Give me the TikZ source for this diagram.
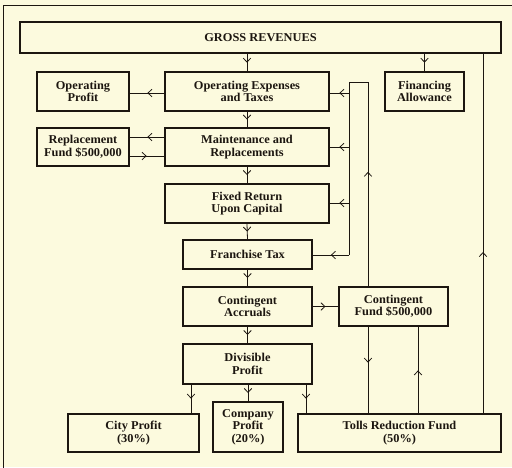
\documentclass[tikz,border=0pt]{standalone}
\usepackage{fontspec}
\setmainfont{Liberation Serif}[FakeStretch=1.03]
\usetikzlibrary{arrows.meta,decorations.markings}
\definecolor{paper}{RGB}{252,250,222}
\definecolor{ink}{RGB}{28,22,16}
\tikzset{
  box/.style={draw=ink, line width=1.6pt, align=center, inner sep=1pt,
    font=\fontsize{12}{12.5}\selectfont\bfseries, text=ink},
  flow/.style={draw=ink, line width=0.8pt},
  tipat/.style={postaction={decorate}, decoration={markings,
    mark=at position #1 with {\arrow[ink, line width=0.8pt]{Straight Barb[length=4pt,width=7.5pt]}}}},
  tipat/.default=0.5
}
\begin{document}
\begin{tikzpicture}[x=1pt,y=-1pt]
  % page and frame
  \useasboundingbox (0,0) rectangle (512,467);
  \fill[paper] (0,0) rectangle (512,467);
  \draw[ink, line width=1.2pt] (3.5,470) -- (3.5,5.5) -- (515,5.5);

  % boxes (centre, width, height)
  \node[box, line width=2.2pt, minimum width=481pt, minimum height=31pt] (gross) at (260.5,37.5) {GROSS REVENUES};
  \node[box, minimum width=92pt, minimum height=39pt] (opprofit) at (83,91.5) {Operating\\Profit};
  \node[box, minimum width=164pt, minimum height=39pt] (opex) at (247,91.5) {Operating Expenses\\and Taxes};
  \node[box, minimum width=79pt, minimum height=39pt] (financing) at (424.5,91.5) {Financing\\Allowance};
  \node[box, minimum width=92pt, minimum height=38pt] (replace) at (83,147) {Replacement\\Fund \$500,000};
  \node[box, minimum width=164pt, minimum height=38pt] (maint) at (247,147) {Maintenance and\\Replacements};
  \node[box, minimum width=164pt, minimum height=39pt] (fixed) at (247,203.5) {Fixed Return\\Upon Capital};
  \node[box, minimum width=129pt, minimum height=29pt] (franchise) at (247.5,254.5) {Franchise Tax};
  \node[box, minimum width=129pt, minimum height=39pt] (accruals) at (247.5,306.5) {Contingent\\Accruals};
  \node[box, minimum width=109pt, minimum height=39pt] (contfund) at (393.5,306.5) {Contingent\\Fund \$500,000};
  \node[box, minimum width=129pt, minimum height=40pt] (divisible) at (247.5,364) {Divisible\\Profit};
  \node[box, minimum width=131pt, minimum height=38pt] (city) at (133.5,433) {City Profit\\(30\%)};
  \node[box, minimum width=70pt, minimum height=50pt] (company) at (248,427) {Company\\Profit\\(20\%)};
  \node[box, minimum width=203pt, minimum height=38pt] (tolls) at (399.5,433) {Tolls Reduction Fund\\(50\%)};

  % main downward chain
  \draw[flow, tipat] (gross.south -| opex.north) -- (opex.north);
  \draw[flow, tipat] (gross.south -| financing.north) -- (financing.north);
  \draw[flow, tipat] (opex.south) -- (maint.north);
  \draw[flow, tipat] (maint.south) -- (fixed.north);
  \draw[flow, tipat] (fixed.south) -- (franchise.north);
  \draw[flow, tipat] (franchise.south) -- (accruals.north);
  \draw[flow, tipat] (accruals.south) -- (divisible.north);

  % side flows
  \coordinate (op) at (165,93);
  \draw[flow, tipat] (op) -- (op -| opprofit.east);
  \coordinate (rout) at (165,137);
  \coordinate (rin) at (129,156);
  \draw[flow, tipat] (rout) -- (rout -| replace.east);
  \draw[flow, tipat] (rin) -- (rin -| maint.west);
  \draw[flow, tipat] (accruals.east) -- (contfund.west);

  % division of profit
  \coordinate (dc) at (191,384);
  \coordinate (dt) at (306,384);
  \draw[flow, tipat] (dc) -- (dc |- city.north);
  \draw[flow, tipat] (divisible.south -| company.north) -- (company.north);
  \draw[flow, tipat] (dt) -- (dt |- tolls.north);

  % contingent fund returns to the expense items
  \coordinate (fa) at (368,82);
  \coordinate (fb) at (349,82);
  \coordinate (fc) at (349,255);
  \draw[flow, tipat=0.56] (contfund.north -| fa) -- (fa);
  \draw[flow] (fa) -- (fb) -- (fc);
  \coordinate (b1) at (349,93);
  \coordinate (b2) at (349,147);
  \coordinate (b3) at (349,203);
  \draw[flow, tipat] (b1) -- (b1 -| opex.east);
  \draw[flow, tipat] (b2) -- (b2 -| maint.east);
  \draw[flow, tipat] (b3) -- (b3 -| fixed.east);
  \draw[flow, tipat] (fc) -- (fc -| franchise.east);

  % exchanges between contingent fund and tolls reduction fund
  \coordinate (cd) at (368,326);
  \coordinate (cu) at (418,414);
  \draw[flow, tipat=0.42] (cd) -- (cd |- tolls.north);
  \draw[flow, tipat] (cu) -- (cu |- contfund.south);

  % tolls reduction fund back to gross revenues
  \coordinate (tg) at (483,414);
  \draw[flow, tipat=0.45] (tg) -- (tg |- gross.south);
\end{tikzpicture}
\end{document}
